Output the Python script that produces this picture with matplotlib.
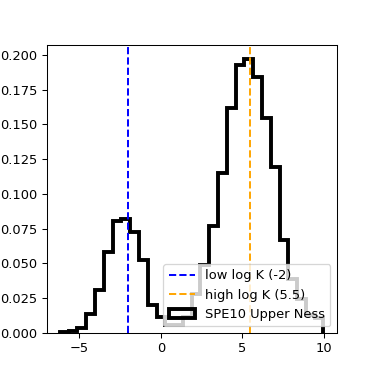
import numpy as np
import matplotlib
matplotlib.use("Agg")
import matplotlib.pyplot as plt

# histogram (density, 30 bins)
edge_lo, edge_hi, n_bins = -6.18, 9.97, 30
density = [0.0008, 0.0012, 0.0035, 0.0138, 0.0305, 0.058, 0.0805, 0.082,
           0.0724, 0.0526, 0.0203, 0.0114, 0.006, 0.006, 0.0114, 0.028,
           0.0485, 0.0772, 0.1148, 0.1622, 0.1927, 0.1974, 0.1845, 0.155,
           0.1191, 0.0665, 0.039, 0.0246, 0.0126, 0.0105]

low_k = -2
high_k = 5.5

edges = np.linspace(edge_lo, edge_hi, n_bins + 1)
centers = 0.5 * (edges[:-1] + edges[1:])

fig, ax = plt.subplots(figsize=(4, 4), dpi=93.5)

ax.hist(centers, bins=edges, weights=density, histtype='step',
        color='black', linewidth=3, label='SPE10 Upper Ness')
ax.axvline(low_k, color='blue', linestyle='--', label='low log K (-2)')
ax.axvline(high_k, color='orange', linestyle='--', label='high log K (5.5)')

# lines first, then the histogram, like the original legend
handles, labels = ax.get_legend_handles_labels()
order = [labels.index('low log K (-2)'), labels.index('high log K (5.5)'),
         labels.index('SPE10 Upper Ness')]
ax.legend([handles[i] for i in order], [labels[i] for i in order],
          loc='lower right')

fig.savefig('out.png', dpi=93.5)
